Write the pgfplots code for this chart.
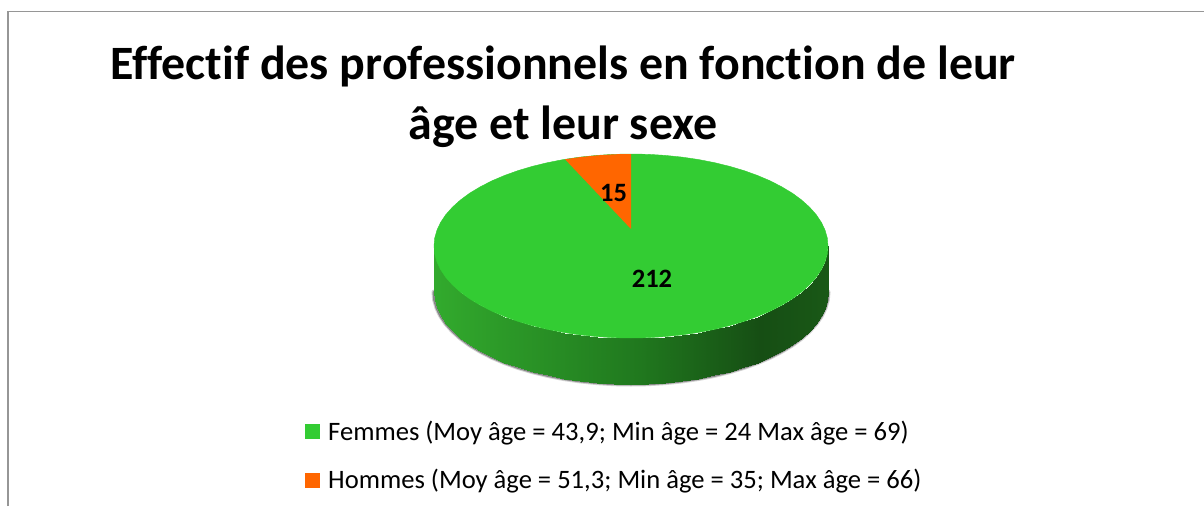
\documentclass[border=0pt]{standalone}
\usepackage{fontspec}
\setmainfont[Ligatures=CommonOff]{Carlito}
\usepackage{pgfplots}
\usepackage{pgfplotstable}
\pgfplotsset{compat=1.18}
\definecolor{femmes}{RGB}{51,204,51}
\definecolor{hommes}{RGB}{255,102,0}
\definecolor{frame}{RGB}{150,150,150}

% lower edge of the pie, left to right, pixel coordinates
\pgfplotstableread{
x bot
434 292
434.7 300
437 308
440.7 315.8
445.9 323.5
452.5 330.9
460.4 338
469.6 344.8
480.1 351.1
491.7 357.1
504.4 362.5
518 367.4
532.5 371.7
547.7 375.4
563.6 378.5
580 380.9
596.8 382.6
613.8 383.7
631 384
648.2 383.7
665.2 382.6
682 380.9
698.4 378.5
714.3 375.4
729.5 371.7
744 367.4
757.6 362.5
770.3 357.1
781.9 351.1
792.4 344.8
801.6 338
809.5 330.9
816.1 323.5
821.3 315.8
825 308
827.3 300
828 292
}\rim

\begin{document}
\begin{tikzpicture}
\begin{axis}[
  scale only axis, width=1204pt, height=506pt,
  xmin=0, xmax=1204, ymin=0, ymax=506, y dir=reverse,
  hide axis,
  colormap={side}{rgb255(0)=(50,170,45) rgb255(206)=(32,120,30) rgb255(326)=(22,78,20) rgb255(394)=(25,88,22)},
]
% chart frame, open at the right and the bottom
\addplot[frame, line width=1.3pt, no marks] coordinates {(8,506)(8,11.5)(1204,11.5)};

% soft shadow under the pie
\addplot[black, opacity=.18, line width=5pt, line cap=round, no marks] table[x=x, y=bot] {\rim};
\addplot[black, opacity=.35, line width=3pt, line cap=round, no marks] table[x=x, y=bot] {\rim};

% side of the pie
\addplot[surf, shader=interp, mesh/rows=2, point meta=x] coordinates {
(434,246)(434.7,254)(437,262)(440.7,269.8)(445.9,277.5)(452.5,284.9)(460.4,292)(469.6,298.8)(480.1,305.1)(491.7,311.1)(504.4,316.5)(518,321.4)(532.5,325.7)(547.7,329.4)(563.6,332.5)(580,334.9)(596.8,336.6)(613.8,337.7)(631,338)(648.2,337.7)(665.2,336.6)(682,334.9)(698.4,332.5)(714.3,329.4)(729.5,325.7)(744,321.4)(757.6,316.5)(770.3,311.1)(781.9,305.1)(792.4,298.8)(801.6,292)(809.5,284.9)(816.1,277.5)(821.3,269.8)(825,262)(827.3,254)(828,246)
(434,292)(434.7,300)(437,308)(440.7,315.8)(445.9,323.5)(452.5,330.9)(460.4,338)(469.6,344.8)(480.1,351.1)(491.7,357.1)(504.4,362.5)(518,367.4)(532.5,371.7)(547.7,375.4)(563.6,378.5)(580,380.9)(596.8,382.6)(613.8,383.7)(631,384)(648.2,383.7)(665.2,382.6)(682,380.9)(698.4,378.5)(714.3,375.4)(729.5,371.7)(744,367.4)(757.6,362.5)(770.3,357.1)(781.9,351.1)(792.4,344.8)(801.6,338)(809.5,330.9)(816.1,323.5)(821.3,315.8)(825,308)(827.3,300)(828,292)
};

% top face: Femmes 212
\addplot[fill=femmes, draw=femmes, line width=.4pt, no marks] coordinates {
(434,246)(434.7,254)(437,262)(440.7,269.8)(445.9,277.5)(452.5,284.9)(460.4,292)(469.6,298.8)(480.1,305.1)(491.7,311.1)(504.4,316.5)(518,321.4)(532.5,325.7)(547.7,329.4)(563.6,332.5)(580,334.9)(596.8,336.6)(613.8,337.7)(631,338)(648.2,337.7)(665.2,336.6)(682,334.9)(698.4,332.5)(714.3,329.4)(729.5,325.7)(744,321.4)(757.6,316.5)(770.3,311.1)(781.9,305.1)(792.4,298.8)(801.6,292)(809.5,284.9)(816.1,277.5)(821.3,269.8)(825,262)(827.3,254)(828,246)
(827.3,238)(825,230)(821.3,222.2)(816.1,214.5)(809.5,207.1)(801.6,200)(792.4,193.2)(781.9,186.9)(770.3,180.9)(757.6,175.5)(744,170.6)(729.5,166.3)(714.3,162.6)(698.4,159.5)(682,157.1)(665.2,155.4)(648.2,154.3)(631,154)(613.8,154.3)(596.8,155.4)(580,157.1)(563.6,159.5)(547.7,162.6)(532.5,166.3)(518,170.6)(504.4,175.5)(491.7,180.9)(480.1,186.9)(469.6,193.2)(460.4,200)(452.5,207.1)(445.9,214.5)(440.7,222.2)(437,230)(434.7,238)
} --cycle;

% top face: Hommes 15
\addplot[fill=hommes, draw=none, no marks] coordinates {
(631,229)(565,159.3)(580,157.1)(596.8,155.4)(613.8,154.3)(631,154)
} --cycle;

% legend swatches
\addplot[fill=femmes, draw=none, no marks] coordinates {(305,424)(320,424)(320,439)(305,439)} --cycle;
\addplot[fill=hommes, draw=none, no marks] coordinates {(305,473)(320,473)(320,488)(305,488)} --cycle;

% data labels
\node[anchor=base, font=\fontsize{26.5}{26.5}\selectfont\bfseries] at (axis cs:613.5,201) {15};
\node[anchor=base, font=\fontsize{26.5}{26.5}\selectfont\bfseries] at (axis cs:652,287) {212};

% title
\node[anchor=base, font=\fontsize{47.9}{47.9}\selectfont\bfseries] at (axis cs:563,79) {Effectif des professionnels en fonction de leur};
\node[anchor=base, font=\fontsize{47.9}{47.9}\selectfont\bfseries] at (axis cs:563,139) {âge et leur sexe};

% legend text
\node[anchor=base west, inner sep=0pt, font=\fontsize{26.6}{26.6}\selectfont] at (axis cs:328,440) {Femmes (Moy âge = 43,9; Min âge = 24 Max âge = 69)};
\node[anchor=base west, inner sep=0pt, font=\fontsize{26.6}{26.6}\selectfont] at (axis cs:328,488) {Hommes (Moy âge = 51,3; Min âge = 35; Max âge = 66)};
\end{axis}
\useasboundingbox (0,0) rectangle (1204pt,506pt);
\end{tikzpicture}
\end{document}
